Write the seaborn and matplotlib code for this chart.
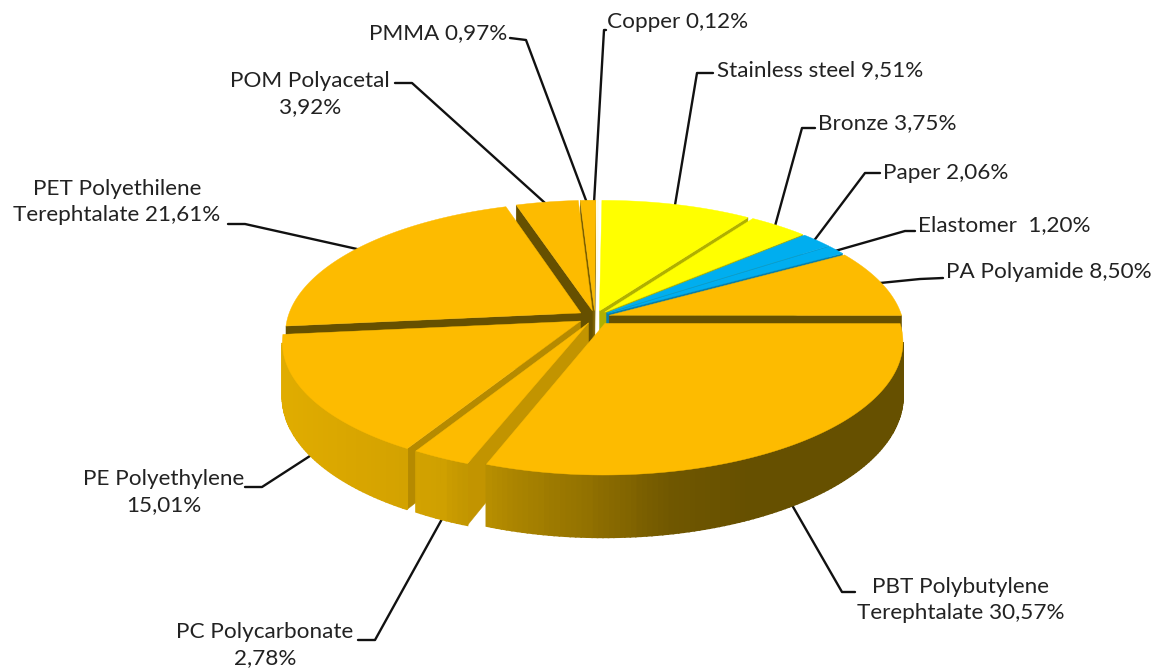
import numpy as np
import matplotlib
matplotlib.use("Agg")
import matplotlib.pyplot as plt
import seaborn as sns

# --------------------------
# 1. Data (clockwise from 12 o'clock)
# --------------------------
materials = ["Stainless steel", "Bronze", "Paper", "Elastomer", "PA Polyamide", "PBT Polybutylene Terephtalate",
             "PC Polycarbonate", "PE Polyethylene", "PET Polyethilene Terephtalate", "POM Polyacetal", "PMMA", "Copper"]
shares = [9.51, 3.75, 2.06, 1.20, 8.50, 30.57, 2.78, 15.01, 21.61, 3.92, 0.97, 0.12]
top_colors = ["#FFFF00", "#FFFF00", "#00AEEF", "#00AEEF", "#FDBB00", "#FDBB00",
              "#FDBB00", "#FDBB00", "#FDBB00", "#FDBB00", "#FDBB00", "#FFFDE8"]
cut_colors = ["#B0B000", "#B0B000", "#0A7FA8", "#0A7FA8", "#665000", "#665000",
              "#C29400", "#B58A00", "#665000", "#665000", "#7A5F00", "#FFFDE8"]

labels = ["Stainless steel 9,51%", "Bronze 3,75%", "Paper 2,06%", "Elastomer  1,20%", "PA Polyamide 8,50%",
          "PBT Polybutylene\nTerephtalate 30,57%", "PC Polycarbonate\n2,78%", "PE Polyethylene\n15,01%",
          "PET Polyethilene\nTerephtalate 21,61%", "POM Polyacetal\n3,92%", "PMMA 0,97%", "Copper 0,12%"]

# --------------------------
# 2. Label placement and leader lines (pixels)
# --------------------------
label_pos = [(717, 70, "left"), (818, 123, "left"), (883, 173, "left"), (918, 225, "left"), (946, 272, "left"),
             (961, 600, "center"), (265, 645, "center"), (164, 492, "center"),
             (117, 202, "center"), (310, 94, "center"), (369, 33, "left"), (607, 22, "left")]
leaders = [[(713, 73), (697, 73), (675, 205)],
           [(815, 128), (802, 128), (775, 226)],
           [(880, 173), (865, 173), (813, 242)],
           [(915, 231), (905, 231), (835, 251)],
           [(943, 278), (920, 279), (880, 283)],
           [(855, 592), (842, 592), (792, 505)],
           [(358, 640), (375, 640), (442, 519)],
           [(245, 487), (262, 487), (313, 454)],
           [(228, 224), (245, 224), (357, 249)],
           [(395, 83), (412, 83), (545, 203)],
           [(510, 38), (526, 40), (587, 203)],
           [(606, 30), (604, 30), (594, 203)]]

# --------------------------
# 3. Pie geometry
# --------------------------
cx, cy = 595, 317
rx, ry = 293, 128
persp = 0.143
skew = 3
depth = 53
explode = [0.05, 0.05, 0.05, 0.05, 0.05, 0.06, 0.05, 0.058, 0.058, 0.05, 0.05, 0.05]
draw_order = [11, 10, 9, 0, 1, 2, 3, 4, 8, 7, 6, 5]  # back slices first

wall_cmap = sns.blend_palette(["#E0AC00", "#D8A500", "#CFA000", "#A98300", "#8F6F00",
                               "#705700", "#665000", "#665000", "#665000"], 128)


def project(u, v, z):
    w = 1 + persp * v
    return cx + skew * v + rx * u / w, cy + (-ry * v + depth * z) / w


def wall_color(x):
    i = int(np.clip((x - 283) / (901 - 283), 0, 1) * 127)
    return wall_cmap[i]


def quad(u0, v0, u1, v1):
    return [project(u0, v0, 0), project(u1, v1, 0), project(u1, v1, 1), project(u0, v0, 1)]


def area(q):
    return sum(q[k][0] * q[(k + 1) % 4][1] - q[(k + 1) % 4][0] * q[k][1] for k in range(4))


sns.set_theme(style="white")
plt.rcParams["font.family"] = ["Lato", "DejaVu Sans"]

fig = plt.figure(figsize=(11.54, 6.69), dpi=100)
ax = fig.add_axes([0, 0, 1, 1])
ax.set_xlim(0, 1154)
ax.set_ylim(669, 0)
ax.axis("off")

for pts in leaders:
    ax.plot([p[0] for p in pts], [p[1] for p in pts], color="#111111", lw=1.7, zorder=1)

edges = np.cumsum([0] + shares) / sum(shares) * 2 * np.pi
mids = (edges[:-1] + edges[1:]) / 2

z = 2
for i in draw_order:
    ox, oy = explode[i] * np.sin(mids[i]), explode[i] * np.cos(mids[i])
    t = np.linspace(edges[i], edges[i + 1], max(3, int(shares[i] * 4)))
    us = ox + np.sin(t)
    vs = oy + np.cos(t)

    # cut walls
    for q in (quad(ox, oy, us[0], vs[0]), quad(us[-1], vs[-1], ox, oy)):
        if area(q) < 0:
            ax.fill(*zip(*q), color=cut_colors[i], lw=0.3, zorder=z)
    # outer wall
    for k in range(len(t) - 1):
        q = quad(us[k], vs[k], us[k + 1], vs[k + 1])
        if area(q) < 0:
            ax.fill(*zip(*q), color=wall_color((q[0][0] + q[1][0]) / 2), lw=1.2, zorder=z)
    # top face
    top = [project(ox, oy, 0)] + [project(a, b, 0) for a, b in zip(us, vs)]
    ax.fill(*zip(*top), color=top_colors[i], lw=0.3, zorder=z + 0.5)
    z += 1

for text, (x, y, ha) in zip(labels, label_pos):
    ax.text(x, y, text, ha=ha, va="center", fontsize=16.2, color="#222222", linespacing=1.4, zorder=50)

fig.savefig("out.png", dpi=100)
